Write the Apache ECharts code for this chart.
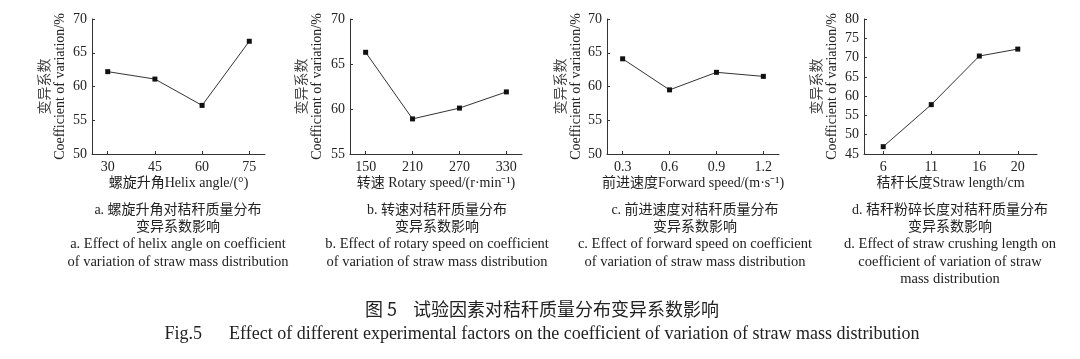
<!DOCTYPE html>
<html>
<head>
<meta charset="utf-8">
<script src="https://cdn.jsdelivr.net/npm/echarts@6/dist/echarts.min.js"></script>
<style>
html,body{margin:0;padding:0;background:#fff;}
#chart{width:1080px;height:359px;}
</style>
</head>
<body>
<div id="chart"></div>
<script>
// ---- data ----
const helixAngle = [30, 45, 60, 75];
const cvHelix = [62.2, 61.1, 57.2, 66.7];
const rotarySpeed = [150, 210, 270, 330];
const cvRotary = [66.3, 58.9, 60.1, 61.9];
const forwardSpeed = [0.3, 0.6, 0.9, 1.2];
const cvForward = [64.1, 59.5, 62.1, 61.5];
const strawLength = [6, 11, 16, 20];
const cvLength = [46.9, 57.8, 70.4, 72.2];

const yTicksA = [50, 55, 60, 65, 70];
const yTicksB = [55, 60, 65, 70];
const yTicksC = [50, 55, 60, 65, 70];
const yTicksD = [45, 50, 55, 60, 65, 70, 75, 80];

const xNames = ['螺旋升角Helix angle/(°)', '转速 Rotary speed/(r·min⁻¹)', '前进速度Forward speed/(m·s⁻¹)', '秸秆长度Straw length/cm'];
const yNameCn = '变异系数';
const yNameEn = 'Coefficient of variation/%';

const captions = [
  ['a. 螺旋升角对秸秆质量分布', '变异系数影响', 'a. Effect of helix angle on coefficient', 'of variation of straw mass distribution'],
  ['b. 转速对秸秆质量分布', '变异系数影响', 'b. Effect of rotary speed on coefficient', 'of variation of straw mass distribution'],
  ['c. 前进速度对秸秆质量分布', '变异系数影响', 'c. Effect of forward speed on coefficient', 'of variation of straw mass distribution'],
  ['d. 秸秆粉碎长度对秸秆质量分布', '变异系数影响', 'd. Effect of straw crushing length on', 'coefficient of variation of straw', 'mass distribution']
];
const titleCn = '图 5    试验因素对秸秆质量分布变异系数影响';
const titleEn = 'Fig.5      Effect of different experimental factors on the coefficient of variation of straw mass distribution';

// ---- layout ----
const FONT = "'Liberation Serif', 'Times New Roman', 'Noto Sans CJK SC', serif";
const TXT = '#222';
const panels = [
  {x: helixAngle, y: cvHelix, xmin: 25, xmax: 80, yt: yTicksA, left: 92, width: 173, center: 178, gap: 23},
  {x: rotarySpeed, y: cvRotary, xmin: 130, xmax: 350, yt: yTicksB, left: 350, width: 172, center: 437, gap: 24},
  {x: forwardSpeed, y: cvForward, xmin: 0.2, xmax: 1.3, yt: yTicksC, left: 607, width: 172, center: 695, gap: 22},
  {x: strawLength, y: cvLength, xmin: 4, xmax: 22, yt: yTicksD, left: 864, width: 173, center: 950, gap: 23}
];

const grids = [], xAxes = [], yAxes = [], series = [], graphics = [];
panels.forEach((p, i) => {
  grids.push({left: p.left, top: 19, width: p.width, height: 135, containLabel: false});
  xAxes.push({
    type: 'value', gridIndex: i, min: p.xmin, max: p.xmax,
    name: xNames[i], nameLocation: 'middle', nameGap: 22,
    nameTextStyle: {fontFamily: FONT, fontSize: 14, color: TXT},
    axisLine: {show: true, lineStyle: {color: '#333', width: 1}},
    axisTick: {show: true, inside: true, length: 3, customValues: p.x, lineStyle: {color: '#333'}},
    axisLabel: {customValues: p.x, margin: 6, fontFamily: FONT, fontSize: 14, color: TXT,
      formatter: v => (i === 2 ? Number(v).toFixed(1) : String(Math.round(v)))},
    splitLine: {show: false}
  });
  yAxes.push({
    type: 'value', gridIndex: i, min: p.yt[0], max: p.yt[p.yt.length - 1], interval: 5,
    name: '{cn|' + yNameCn + '}\n{en|' + yNameEn + '}',
    nameLocation: 'middle', nameRotate: 90, nameGap: p.gap,
    nameTextStyle: {fontFamily: FONT, color: TXT, rich: {
      cn: {fontFamily: "'Noto Sans CJK SC', sans-serif", fontSize: 14, lineHeight: 17, color: '#444'},
      en: {fontFamily: FONT, fontSize: 14, lineHeight: 17, color: TXT}
    }},
    axisLine: {show: true, lineStyle: {color: '#333', width: 1}},
    axisTick: {show: true, inside: true, length: 3, lineStyle: {color: '#333'}},
    axisLabel: {margin: 5, fontFamily: FONT, fontSize: 14, color: TXT},
    splitLine: {show: false}
  });
  series.push({
    type: 'line', xAxisIndex: i, yAxisIndex: i,
    data: p.x.map((v, k) => [v, p.y[k]]),
    symbol: 'rect', symbolSize: 5, showSymbol: true,
    itemStyle: {color: '#111'},
    lineStyle: {color: '#333', width: 1},
    animation: false
  });
  captions[i].forEach((line, k) => {
    const isCn = k < 2;
    graphics.push({
      type: 'text',
      style: {text: line, x: p.center, y: 210 + k * 17.3, align: 'center', verticalAlign: 'middle',
        font: (isCn ? '14px ' : '14.5px ') + FONT, fill: TXT}
    });
  });
});
graphics.push({type: 'text', style: {text: titleCn, x: 542, y: 309, align: 'center', verticalAlign: 'middle', font: "18px 'Noto Sans CJK SC', sans-serif", fill: TXT}});
graphics.push({type: 'text', style: {text: titleEn, x: 542, y: 334, align: 'center', verticalAlign: 'middle', font: '18px ' + FONT, fill: TXT}});

const chart = echarts.init(document.getElementById('chart'), null, {renderer: 'canvas'});
chart.setOption({
  backgroundColor: '#fff',
  animation: false,
  grid: grids, xAxis: xAxes, yAxis: yAxes, series: series,
  graphic: graphics
});
</script>
</body>
</html>
